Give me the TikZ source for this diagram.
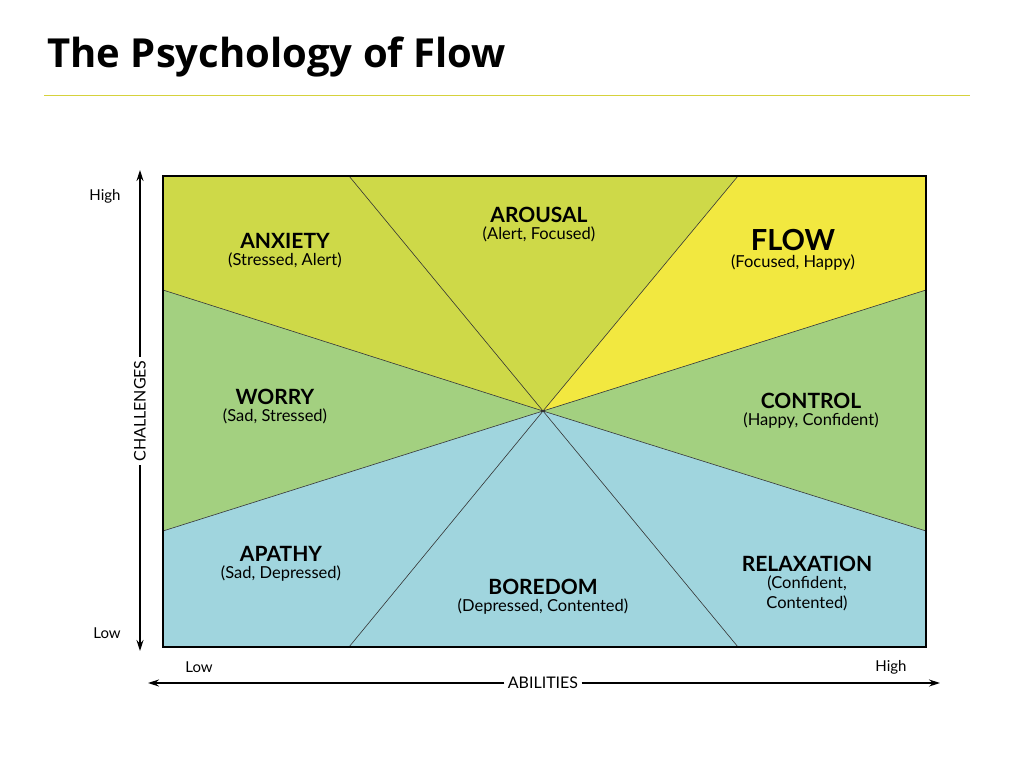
\documentclass[tikz,border=0pt]{standalone}
\usepackage{fontspec}
\setmainfont{Open Sans}
\newfontfamily\labelfont{Lato}
\usetikzlibrary{positioning, arrows.meta}
\definecolor{olive}{RGB}{206,217,72}
\definecolor{flowyellow}{RGB}{242,232,64}
\definecolor{calmgreen}{RGB}{163,208,128}
\definecolor{lowblue}{RGB}{160,213,222}
\definecolor{rulecol}{RGB}{214,210,60}
\tikzset{
    x=1pt, y=-1pt,
    sector/.style={draw=black!80, line width=0.6pt}, % wedge outline
    zone/.style={font=\labelfont\bfseries\fontsize{21}{22}\selectfont, align=center, inner sep=1pt},
    mood/.style={font=\labelfont\fontsize{16.5}{20}\selectfont, align=center, inner sep=1pt},
    axis/.style={font=\labelfont\fontsize{15}{16}\selectfont},
    axisarrow/.style={-{Stealth[length=11pt,width=7pt]}, line width=1.3pt},
}
\begin{document}
\begin{tikzpicture}
\useasboundingbox (0,0) rectangle (1024,767);
\node[anchor=west, font=\bfseries\fontsize{40}{44}\selectfont] (title) at (44,57) {The Psychology of Flow};
\draw[rulecol, line width=0.8pt] (44,95) -- (970,95);
% corners and centre
\coordinate (nw) at (163,176);
\coordinate (ne) at (926,176);
\coordinate (se) at (926,647);
\coordinate (sw) at (163,647);
\coordinate (c) at (543,411);
% wedges
\fill[olive] (c) -- (163,290) -- (nw) -- (738,176) -- cycle;
\fill[flowyellow] (c) -- (738,176) -- (ne) -- (926,290) -- cycle;
\fill[calmgreen] (c) -- (926,290) -- (926,531) -- cycle;
\fill[calmgreen] (c) -- (163,290) -- (163,531) -- cycle;
\fill[lowblue] (c) -- (163,531) -- (sw) -- (se) -- (926,531) -- cycle;
\draw[sector] (c) -- (163,290) (c) -- (349,176) (c) -- (738,176) (c) -- (926,290)
  (c) -- (926,531) (c) -- (738,647) (c) -- (349,647) (c) -- (163,531);
\draw[line width=1.2pt] (nw) rectangle (se);
% labels
\node[zone] (anxiety) at (285,241) {ANXIETY};
\node[mood, below=2pt of anxiety] {(Stressed, Alert)};
\node[zone] (arousal) at (539,215) {AROUSAL};
\node[mood, below=2pt of arousal] {(Alert, Focused)};
\node[zone, font=\labelfont\bfseries\fontsize{29}{30}\selectfont] (flow) at (793,240) {FLOW};
\node[mood, below=2pt of flow] {(Focused, Happy)};
\node[zone] (worry) at (275,397) {WORRY};
\node[mood, below=2pt of worry] {(Sad, Stressed)};
\node[zone] (control) at (811,401) {CONTROL};
\node[mood, below=2pt of control] {(Happy, Confident)};
\node[zone] (apathy) at (281,554) {APATHY};
\node[mood, below=2pt of apathy] {(Sad, Depressed)};
\node[zone] (boredom) at (543,587) {BOREDOM};
\node[mood, below=2pt of boredom] {(Depressed, Contented)};
\node[zone] (relaxation) at (807,564) {RELAXATION};
\node[mood, below=2pt of relaxation] {(Confident,\\Contented)};
% axes
\node[axis] (hiY) at (105,196) {High};
\node[axis] (loY) at (107,633) {Low};
\node[axis, rotate=90, font=\labelfont\fontsize{16}{17}\selectfont] (chal) at (140,411) {CHALLENGES};
\draw[axisarrow] (chal.east) -- (140,170);
\draw[axisarrow] (chal.west) -- (140,651);
\node[axis] (loX) at (199,667) {Low};
\node[axis] (hiX) at (891,667) {High};
\node[axis, font=\labelfont\fontsize{16}{17}\selectfont] (abil) at (543,683) {ABILITIES};
\draw[axisarrow] (abil.west) -- (148,683);
\draw[axisarrow] (abil.east) -- (940,683);
\end{tikzpicture}
\end{document}
